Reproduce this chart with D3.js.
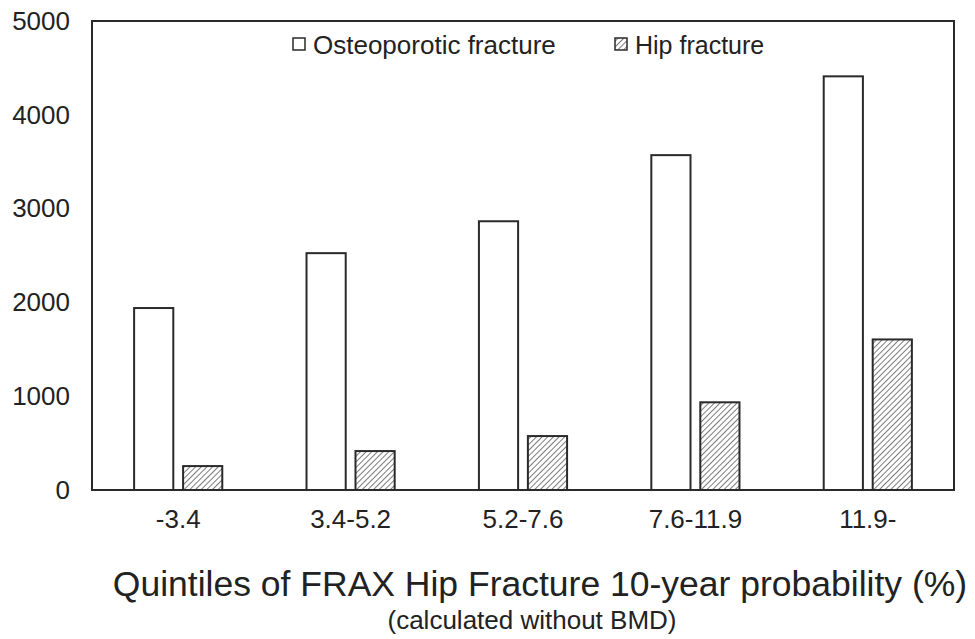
<!DOCTYPE html>
<html>
<head>
<meta charset="utf-8">
<script src="https://cdn.jsdelivr.net/npm/d3@7"></script>
<style>
  body { margin: 0; background: #fff; }
  svg text { font-family: "Liberation Sans", Arial, sans-serif; fill: #222; }
</style>
</head>
<body>
<svg id="chart" width="975" height="639"></svg>
<script>
// categories (quintiles) and the two series
var categories = ["-3.4", "3.4-5.2", "5.2-7.6", "7.6-11.9", "11.9-"];
var seriesNames = ["Osteoporotic fracture", "Hip fracture"];
var osteoValues = [1940, 2525, 2865, 3570, 4410];
var hipValues = [255, 415, 575, 935, 1605];
var yTicks = [0, 1000, 2000, 3000, 4000, 5000];

var svg = d3.select("#chart");
var margin = { top: 21, right: 21, bottom: 149, left: 92 };
var width = 975 - margin.left - margin.right;
var height = 639 - margin.top - margin.bottom;

var g = svg.append("g").attr("transform", "translate(" + margin.left + "," + margin.top + ")");

// hatch for hip fracture bars
var defs = svg.append("defs");
var pat = defs.append("pattern")
    .attr("id", "hatch")
    .attr("patternUnits", "userSpaceOnUse")
    .attr("width", 4)
    .attr("height", 4)
    .attr("patternTransform", "rotate(45)");
pat.append("rect").attr("width", 4).attr("height", 4).attr("fill", "#fff");
pat.append("line")
    .attr("x1", 0).attr("y1", 0).attr("x2", 0).attr("y2", 4)
    .attr("stroke", "#444").attr("stroke-width", 1.4);

var x0 = d3.scaleBand().domain(categories).range([0, width]).padding(0);
var x1 = d3.scaleBand().domain(seriesNames).range([0, x0.bandwidth()])
    .paddingInner(0.2).paddingOuter(0.86);
var y = d3.scaleLinear().domain([0, 5000]).range([height, 0]);

var rows = categories.map(function (c, i) {
    return { cat: c, values: [
        { key: seriesNames[0], value: osteoValues[i] },
        { key: seriesNames[1], value: hipValues[i] }
    ] };
});

// bars
var groups = g.selectAll(".grp").data(rows).enter().append("g")
    .attr("transform", function (d) { return "translate(" + x0(d.cat) + ",0)"; });
groups.selectAll("rect").data(function (d) { return d.values; }).enter().append("rect")
    .attr("x", function (d) { return x1(d.key); })
    .attr("y", function (d) { return y(d.value); })
    .attr("width", x1.bandwidth())
    .attr("height", function (d) { return height - y(d.value); })
    .attr("fill", function (d) { return d.key === seriesNames[0] ? "#fff" : "url(#hatch)"; })
    .attr("stroke", "#2a2a2a")
    .attr("stroke-width", 2);

// frame
g.append("rect")
    .attr("width", width).attr("height", height)
    .attr("fill", "none").attr("stroke", "#2a2a2a").attr("stroke-width", 2);

// y axis
var yAxis = g.append("g").call(d3.axisLeft(y).tickValues(yTicks)
    .tickFormat(d3.format("d")).tickSize(0).tickPadding(22));
yAxis.select(".domain").remove();
yAxis.selectAll("text").style("font-size", "26px").attr("fill", "#222");

// x axis
var xAxis = g.append("g").attr("transform", "translate(0," + height + ")")
    .call(d3.axisBottom(x0).tickSize(0).tickPadding(20));
xAxis.select(".domain").remove();
xAxis.selectAll("text").style("font-size", "26px").attr("fill", "#222");

// axis titles
svg.append("text")
    .attr("x", 540).attr("y", 596)
    .attr("text-anchor", "middle").style("font-size", "35.5px")
    .text("Quintiles of FRAX Hip Fracture 10-year probability (%)");
svg.append("text")
    .attr("x", 532).attr("y", 629)
    .attr("text-anchor", "middle").style("font-size", "26px")
    .text("(calculated without BMD)");

// legend
var legend = svg.append("g").attr("transform", "translate(293,35)");
var items = legend.selectAll("g").data(seriesNames).enter().append("g")
    .attr("transform", function (d, i) { return "translate(" + (i * 322) + ",0)"; });
items.append("rect")
    .attr("width", 12).attr("height", 12).attr("y", 3)
    .attr("fill", function (d, i) { return i === 0 ? "#fff" : "url(#hatch)"; })
    .attr("stroke", "#2a2a2a").attr("stroke-width", 1.5);
items.append("text")
    .attr("x", 20).attr("y", 19)
    .style("font-size", function (d, i) { return i === 0 ? "26px" : "25px"; })
    .text(function (d) { return d; });
</script>
</body>
</html>
